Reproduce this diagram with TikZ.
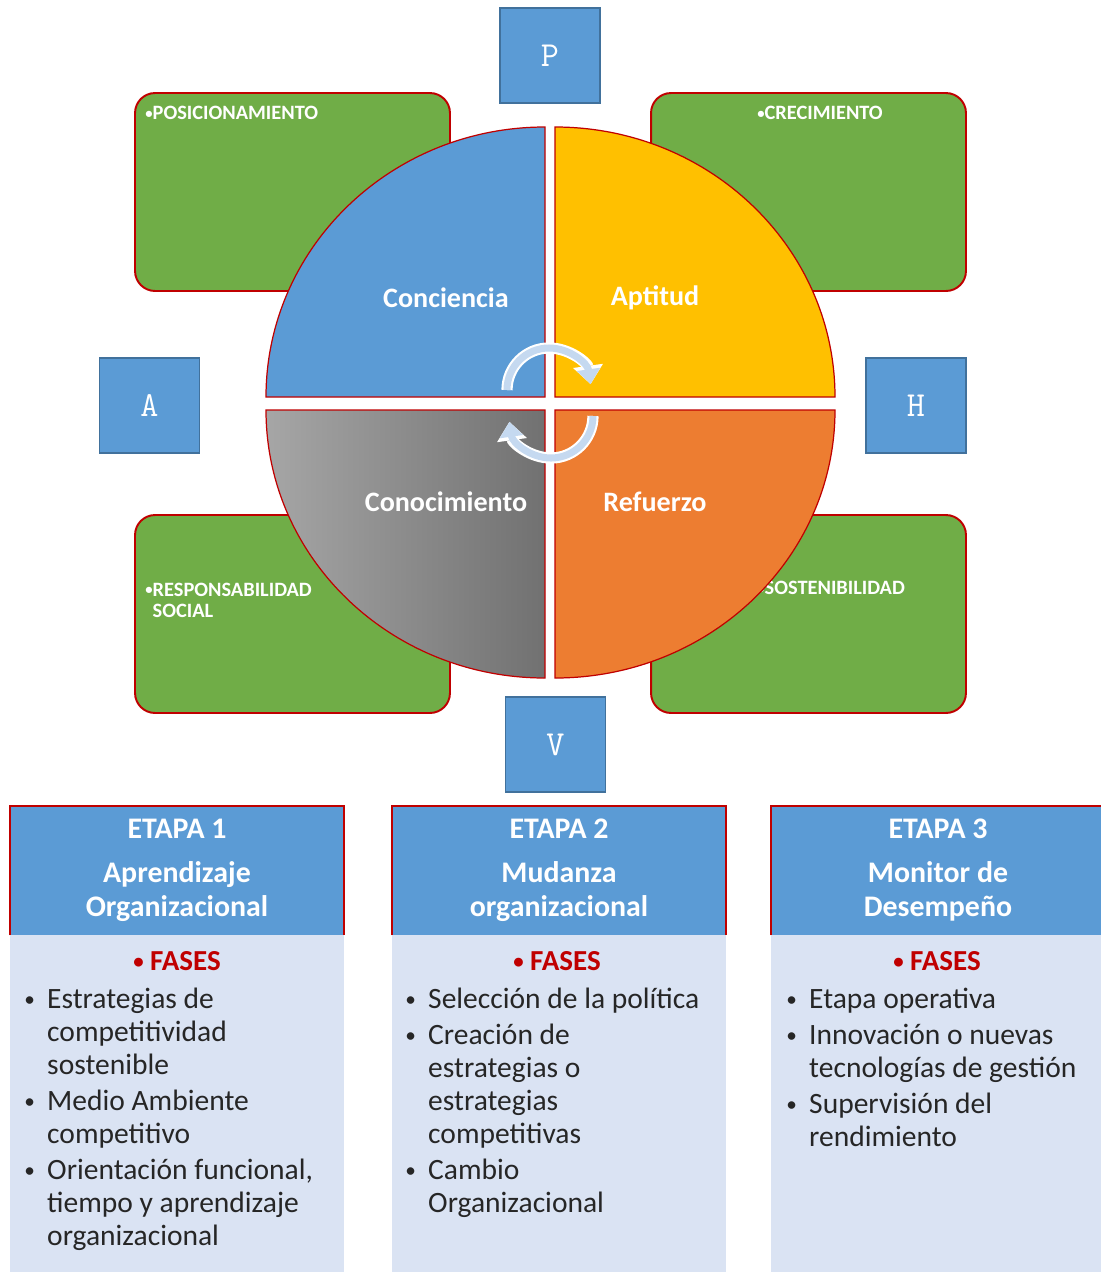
\documentclass[tikz,border=0pt]{standalone}
\usepackage{fontspec}
\setmainfont{Carlito}
\usepackage{graphicx}
\usepackage{xcolor}
\usepackage{tikz}
\usetikzlibrary{arrows.meta,positioning,calc}

\definecolor{boxblue}{HTML}{5B9BD5}
\definecolor{edgeblue}{HTML}{41719C}
\definecolor{leafgreen}{HTML}{70AD47}
\definecolor{rimred}{HTML}{C00000}
\definecolor{sunyellow}{HTML}{FFC000}
\definecolor{fireorange}{HTML}{ED7D31}
\definecolor{greyleft}{HTML}{A6A6A6}
\definecolor{greyright}{HTML}{717171}
\definecolor{paleblue}{HTML}{DAE3F3}
\definecolor{cycleblue}{HTML}{C5D9F0}
\definecolor{inkgrey}{HTML}{262626}

\newcommand{\dotmark}{\raisebox{0.08em}{\scalebox{0.72}{\textbullet}}}

\begin{document}
\begin{tikzpicture}[
  x=0.02cm, y=0.02cm,
  letterbox/.style={draw=edgeblue, fill=boxblue, line width=1pt, minimum width=2cm,
    minimum height=1.9cm, inner sep=0pt, text=white, font=\ttfamily\fontsize{20}{20}\selectfont},
  leafbox/.style={draw=rimred, fill=leafgreen, line width=1.1pt, rounded corners=0.4cm,
    minimum width=6.3cm, minimum height=3.96cm, inner sep=0pt},
  leaftext/.style={anchor=north west, inner sep=0pt, text=white,
    font=\bfseries\fontsize{11.6}{12.2}\selectfont},
  quarter/.style={draw=rimred, line width=0.7pt},
  quartertext/.style={text=white, font=\bfseries\fontsize{16}{18}\selectfont},
  cyclewhite/.style={white, line width=6.4pt, -{Triangle[length=10.5pt, width=16.5pt]}},
  cyclefill/.style={cycleblue, line width=4pt, -{Triangle[length=8.5pt, width=13pt]}},
  stagehead/.style={fill=boxblue, minimum width=6.68cm, minimum height=2.58cm, inner sep=0pt},
  stagebody/.style={fill=paleblue, minimum width=6.68cm, minimum height=7cm, inner sep=0pt, anchor=north},
  stagerim/.style={rimred, line width=1.2pt},
  stagetitle/.style={text=white, align=center, font=\bfseries\fontsize{17}{19.3}\selectfont},
  phasehead/.style={text=rimred, font=\bfseries\fontsize{16.5}{19}\selectfont},
  phaselist/.style={anchor=north west, inner sep=0pt, text=inkgrey, font=\fontsize{16.8}{18.7}\selectfont}
]

\useasboundingbox (0,0) rectangle (1100,-1272);
\fill[white] (0,0) rectangle (1100,-1272);

% Green corner boxes
\node[leafbox] (posic) at (292.5,-192) {};
\node[leafbox] (crec) at (808.5,-192) {};
\node[leafbox] (resp) at (292.5,-614) {};
\node[leafbox] (sost) at (808.5,-614) {};

\node[leaftext] (posictext) at (145,-106) {\dotmark POSICIONAMIENTO};
\node[leaftext] (crectext) at (757,-106) {\dotmark CRECIMIENTO};
\node[leaftext] (resptext) at (145,-581) {\begin{tabular}{@{}l@{}l@{}}\dotmark & RESPONSABILIDAD\\ & SOCIAL\end{tabular}};
\node[leaftext] (sosttext) at (757,-581) {\dotmark SOSTENIBILIDAD};

% Quarters of the circle
\draw[quarter, fill=boxblue] (545,-397) -- (266,-397)
  arc[start angle=180, end angle=90, x radius=279, y radius=270] -- cycle;
\draw[quarter, fill=sunyellow] (555,-397) -- (835,-397)
  arc[start angle=0, end angle=90, x radius=280, y radius=270] -- cycle;
\draw[quarter, left color=greyleft, right color=greyright] (545,-410) -- (266,-410)
  arc[start angle=180, end angle=270, x radius=279, y radius=268] -- cycle;
\draw[quarter, fill=fireorange] (555,-410) -- (835,-410)
  arc[start angle=0, end angle=-90, x radius=280, y radius=268] -- cycle;

\node[quartertext] (conciencia) at (446,-298) {Conciencia};
\node[quartertext] (aptitud) at (655,-298) {Aptitud};
\node[quartertext] (conocimiento) at (446,-502) {Conocimiento};
\node[quartertext] (refuerzo) at (655,-502) {Refuerzo};

% Cycle arrows
\draw[cyclewhite] (507,-390) arc[start angle=180, end angle=8, radius=42];
\draw[cyclefill] (507,-390) arc[start angle=180, end angle=8, radius=42];
\draw[cyclewhite] (593,-416) arc[start angle=0, end angle=-172, radius=42];
\draw[cyclefill] (593,-416) arc[start angle=0, end angle=-172, radius=42];

% Letters round the circle
\node[letterbox] (P) at (550,-55.5) {P};
\node[letterbox] (A) at (149.5,-405.5) {A};
\node[letterbox] (H) at (916,-405.5) {H};
\node[letterbox] (V) at (555.5,-744.5) {V};

% Stages
\node[stagebody] (body1) at (177,-935) {};
\node[stagebody] (body2) at (559,-935) {};
\node[stagebody] (body3) at (938,-935) {};

\node[stagehead] (head1) at (177,-870.5) {};
\node[stagehead] (head2) at (559,-870.5) {};
\node[stagehead] (head3) at (938,-870.5) {};

\draw[stagerim] (head1.south west) -- (head1.north west) -- (head1.north east) -- (head1.south east);
\draw[stagerim] (head2.south west) -- (head2.north west) -- (head2.north east) -- (head2.south east);
\draw[stagerim] (head3.south west) -- (head3.north west) -- (head3.north east) -- (head3.south east);

\node[stagetitle] (title1) at (177,-870) {ETAPA 1\\[6pt]Aprendizaje\\Organizacional};
\node[stagetitle] (title2) at (559,-870) {ETAPA 2\\[6pt]Mudanza\\organizacional};
\node[stagetitle] (title3) at (938,-870) {ETAPA 3\\[6pt]Monitor de\\Desempeño};

\node[phasehead] (fases1) at (177,-961) {\dotmark\ FASES};
\node[phasehead] (fases2) at (557,-961) {\dotmark\ FASES};
\node[phasehead] (fases3) at (937,-961) {\dotmark\ FASES};

\node[phaselist] (list1) at (24,-985) {\begin{tabular}{@{}l@{\hspace{7pt}}l@{}}
  \dotmark & Estrategias de\\ & competitividad\\ & sostenible\\[2pt]
  \dotmark & Medio Ambiente\\ & competitivo\\[2pt]
  \dotmark & Orientación funcional,\\ & tiempo y aprendizaje\\ & organizacional
\end{tabular}};
\node[phaselist] (list2) at (405,-985) {\begin{tabular}{@{}l@{\hspace{7pt}}l@{}}
  \dotmark & Selección de la política\\[2pt]
  \dotmark & Creación de\\ & estrategias o\\ & estrategias\\ & competitivas\\[2pt]
  \dotmark & Cambio\\ & Organizacional
\end{tabular}};
\node[phaselist] (list3) at (786,-985) {\begin{tabular}{@{}l@{\hspace{7pt}}l@{}}
  \dotmark & Etapa operativa\\[2pt]
  \dotmark & Innovación o nuevas\\ & tecnologías de gestión\\[2pt]
  \dotmark & Supervisión del\\ & rendimiento
\end{tabular}};

\end{tikzpicture}
\end{document}
